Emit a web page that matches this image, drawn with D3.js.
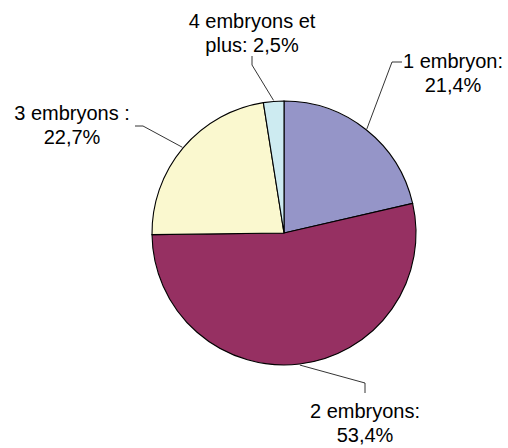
<!DOCTYPE html>
<html>
<head>
<meta charset="utf-8">
<script src="https://cdn.jsdelivr.net/npm/d3@7"></script>
<style>
  body { margin: 0; background: #fff; }
  text { font-family: Arial, "Liberation Sans", sans-serif; font-size: 20px; fill: #000; }
</style>
</head>
<body>
<div id="chart"></div>
<script>
var width = 508,
	height = 448,
	CX = 284,
	CY = 233,
	RADIUS = 132,
	LINE_GAP = 24;

// data, clockwise from 12 o'clock
var categories = ["1 embryon", "2 embryons", "3 embryons", "4 embryons et plus"];
var values = [21.4, 53.4, 22.7, 2.5];
var labelLines = [
	["1 embryon:", "21,4%"],
	["2 embryons:", "53,4%"],
	["3 embryons :", "22,7%"],
	["4 embryons et", "plus: 2,5%"]
];
var colors = ["#9595c8", "#963062", "#faf8cf", "#cdebf1"];

// label placement relative to the pie centre: elbow, line end, text centre / first baseline
var labelLayout = [
	{ elbow: [108, -171], end: [118, -171], text: [169, -165] },
	{ elbow: [81, 150], end: [81, 160], text: [81, 185] },
	{ elbow: [-141, -107], end: [-149, -107], text: [-212, -113] },
	{ elbow: [-32, -168], end: [-32, -177], text: [-32, -205] }
];

var svg = d3.select("#chart").append("svg")
	.attr("width", width)
	.attr("height", height);

var pie = d3.pie().sort(null).value(function(d) { return d; });
var arcs = pie(values);

var arc = d3.arc().innerRadius(0).outerRadius(RADIUS);

var g = svg.append("g").attr("transform", "translate(" + CX + "," + CY + ")");

g.selectAll(".slice")
	.data(arcs)
	.enter()
	.append("path")
	.attr("class", "slice")
	.attr("d", arc)
	.style("fill", function(d, i) { return colors[i]; })
	.style("stroke", "#000")
	.style("stroke-width", 1.1);

// leader lines from the rim at each slice's mid angle
g.selectAll(".leader")
	.data(arcs)
	.enter()
	.append("polyline")
	.attr("class", "leader")
	.attr("points", function(d, i) {
		var a = (d.startAngle + d.endAngle) / 2;
		var start = [Math.sin(a) * (RADIUS + 1), -Math.cos(a) * (RADIUS + 1)];
		var L = labelLayout[i];
		return [start, L.elbow, L.end].map(function(p) { return p.join(","); }).join(" ");
	})
	.style("fill", "none")
	.style("stroke", "#000")
	.style("stroke-width", 0.8);

var labels = g.selectAll(".label")
	.data(arcs)
	.enter()
	.append("text")
	.attr("class", "label")
	.attr("text-anchor", "middle")
	.attr("transform", function(d, i) {
		return "translate(" + labelLayout[i].text.join(",") + ")";
	});

labels.selectAll("tspan")
	.data(function(d, i) { return labelLines[i]; })
	.enter()
	.append("tspan")
	.attr("x", 0)
	.attr("y", function(d, i) { return i * LINE_GAP; })
	.text(function(d) { return d; });
</script>
</body>
</html>
